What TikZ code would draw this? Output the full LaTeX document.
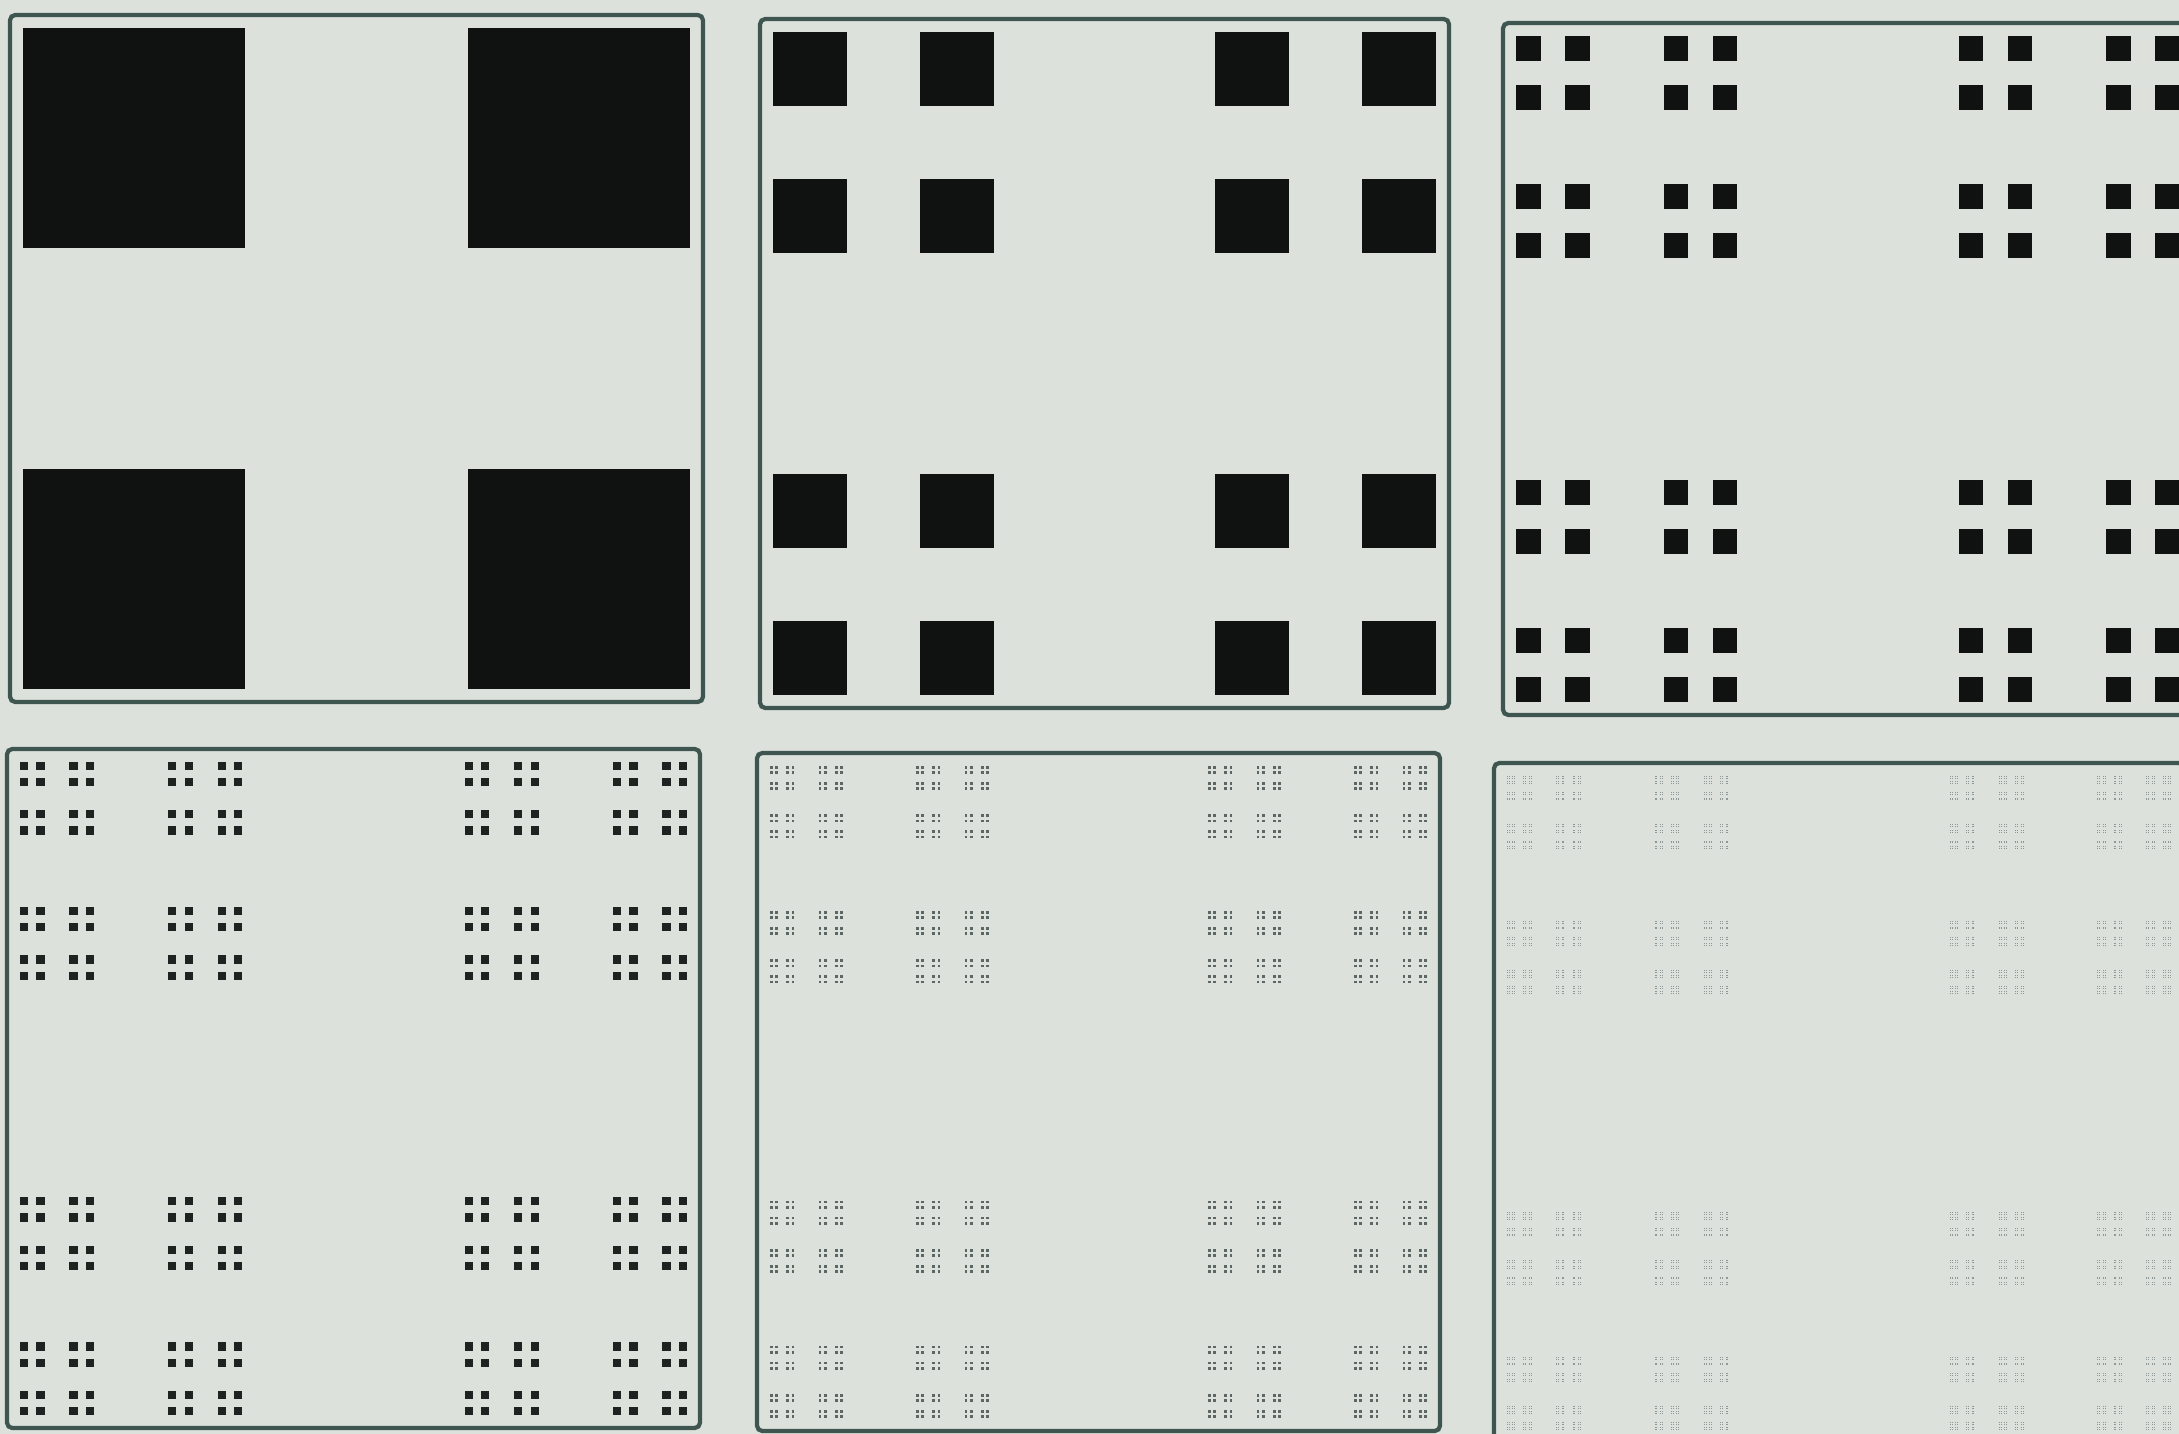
\documentclass[tikz,border=0pt]{standalone}
\usepackage{tikz}
\definecolor{paper}{HTML}{DDE1DC}
\definecolor{rim}{HTML}{3E5550}
\definecolor{ink}{HTML}{101111}
\definecolor{inkd}{HTML}{1E2221}
\definecolor{inkm}{HTML}{5C6765}
\definecolor{inkl}{HTML}{8E9896}
% level, x, y, side (unit square of the panel)
\def\cdust#1#2#3#4{%
  \ifnum#1=0
    \fill (#2,#3) rectangle +(#4,#4);
  \else
    \pgfmathsetmacro\cdS{#4/3}%
    \pgfmathsetmacro\cdX{#2+2*\cdS}%
    \pgfmathsetmacro\cdY{#3+2*\cdS}%
    \edef\cdN{\the\numexpr#1-1\relax}%
    \edef\cdNext{%
      \noexpand\cdust{\cdN}{#2}{#3}{\cdS}%
      \noexpand\cdust{\cdN}{\cdX}{#3}{\cdS}%
      \noexpand\cdust{\cdN}{#2}{\cdY}{\cdS}%
      \noexpand\cdust{\cdN}{\cdX}{\cdY}{\cdS}}%
    \expandafter\cdNext
  \fi}
\tikzset{
  panel/.style={draw=rim,line width=1.2pt,rounded corners=1.5pt},
}

\begin{document}
\begin{tikzpicture}[x=0.01cm,y=-0.01cm]
\clip (0,0) rectangle (2179,1434);
\fill[paper] (0,0) rectangle (2179,1434);
% six stages of the dust, left to right, top to bottom
\foreach \lv/\px/\py/\pw/\ph/\col in {1/10/15/693/687/ink,
    2/760/19/689/689/ink, 3/1503/23/690/692/ink,
    4/7/749/693/679/inkd, 5/757/753/683/678/inkm, 6/1494/763/690/680/inkl}{
  \draw[panel] (\px,\py) rectangle ++(\pw,\ph);
  \pgfmathsetmacro\fw{(\pw-26)*0.01}
  \pgfmathsetmacro\fh{(\ph-26)*0.01}
  \begin{scope}[shift={(\px+13,\py+13)},x=\fw cm,y=-\fh cm,fill=\col]
    \cdust{\lv}{0}{0}{1}
  \end{scope}
}
\end{tikzpicture}
\end{document}
